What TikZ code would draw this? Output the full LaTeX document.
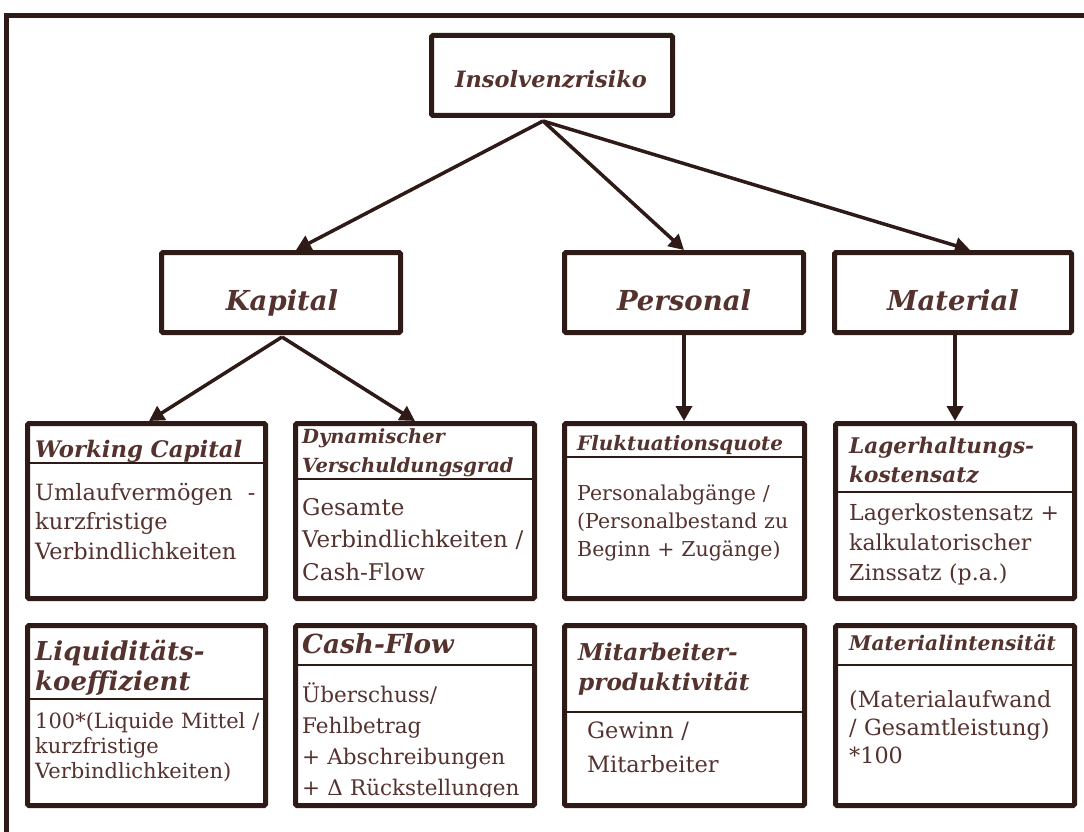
\documentclass[tikz,border=0pt]{standalone}
\usepackage{fontspec}
\setmainfont{DejaVu Serif}
\usetikzlibrary{arrows.meta}
\definecolor{framec}{RGB}{46,26,22}
\definecolor{ink}{RGB}{84,50,46}
\newcommand{\fs}[2]{\fontsize{#1}{#2}\selectfont}
\begin{document}
\begin{tikzpicture}[x=1pt,y=-1pt,
  box/.style={draw=framec, line width=5pt, rounded corners=1.5pt, inner sep=0pt, fill=white},
  divider/.style={draw=framec, line width=1.6pt},
  link/.style={draw=framec, line width=3.5pt, -{Triangle[length=15pt,width=16pt]}},
  head/.style={anchor=base, inner sep=0pt, text=ink, font=\bfseries\itshape\fs{27.5}{34}},
  ttl/.style={anchor=base west, inner sep=0pt, text=ink, align=left, text width=250pt},
  body/.style={anchor=base west, inner sep=0pt, text=ink, align=left, text width=250pt},
]
\useasboundingbox (0,0) rectangle (1084,832);
% page frame (top and left edges)
\draw[framec, line width=5pt] (1084,15.5) -- (6,15.5) -- (6,832);

% top level
\node[box, minimum width=241pt, minimum height=80pt] (ins) at (552,75.5) {};
\node[head, font=\bfseries\itshape\fs{22.5}{28}] (inst) at (551,88) {Insolvenzrisiko};
\coordinate (insb) at (543,121);

% second level
\node[box, minimum width=239pt, minimum height=80pt] (kap) at (281,292.5) {};
\node[box, minimum width=239pt, minimum height=80pt] (per) at (684,292.5) {};
\node[box, minimum width=237pt, minimum height=80pt] (mat) at (953,292.5) {};
\node[head] (kapt) at (282,310) {Kapital};
\node[head] (pert) at (684,310) {Personal};
\node[head] (matt) at (953,310) {Material};

% third level boxes
\node[box, minimum width=238pt, minimum height=175pt] (wc)  at (146.5,511) {};
\node[box, minimum width=239pt, minimum height=175pt] (dyn) at (415,511) {};
\node[box, minimum width=240pt, minimum height=175pt] (flu) at (684.5,511) {};
\node[box, minimum width=239pt, minimum height=175pt] (lag) at (955,511) {};
% fourth level boxes
\node[box, minimum width=238pt, minimum height=180pt] (liq) at (146.5,715.5) {};
\node[box, minimum width=239pt, minimum height=180pt] (cf)  at (415,715.5) {};
\node[box, minimum width=240pt, minimum height=180pt] (mit) at (684.5,715.5) {};
\node[box, minimum width=239pt, minimum height=180pt] (mi)  at (955,715.5) {};

% dividers between heading and formula
\draw[divider] (wc.west |- 0,463) -- (wc.east |- 0,463);
\draw[divider] (dyn.west |- 0,479) -- (dyn.east |- 0,479);
\draw[divider] (flu.west |- 0,457) -- (flu.east |- 0,457);
\draw[divider] (lag.west |- 0,492) -- (lag.east |- 0,492);
\draw[divider] (liq.west |- 0,699) -- (liq.east |- 0,699);
\draw[divider] (cf.west |- 0,665) -- (cf.east |- 0,665);
\draw[divider] (mit.west |- 0,712) -- (mit.east |- 0,712);
\draw[divider] (mi.west |- 0,665) -- (mi.east |- 0,665);

% connectors
\coordinate (kapb) at (282,337);
\draw[link] (insb) -- (kap.north -| 296,0);
\draw[link] (insb) -- (per.north);
\draw[link] (insb) -- (mat.north -| 970,0);
\draw[link] (kapb) -- (wc.north -| 149,0);
\draw[link] (kapb) -- (dyn.north);
\draw[link] (per.south) -- (flu.north -| per.south);
\draw[link] (mat.south -| 955,0) -- (lag.north);

% Working Capital
\node[ttl, font=\bfseries\itshape\fs{22.8}{29}] (wct) at (35,457) {Working Capital};
\node[body, font=\fs{22.5}{29.5}] (wcf) at (35,500) {Umlaufvermögen \ -\\kurzfristige\\Verbindlichkeiten};
% Dynamischer Verschuldungsgrad
\node[ttl, font=\bfseries\itshape\fs{19.5}{29}] (dynt) at (302,443) {Dynamischer\\Verschuldungsgrad};
\node[body, font=\fs{23}{32.5}] (dynf) at (302,515) {Gesamte\\Verbindlichkeiten /\\Cash-Flow};
% Fluktuationsquote
\node[ttl, font=\bfseries\itshape\fs{19.9}{29}] (flut) at (577,450) {Fluktuationsquote};
\node[body, font=\fs{20.5}{28}] (fluf) at (577,500) {Personalabgänge /\\(Personalbestand zu\\Beginn + Zugänge)};
% Lagerhaltungskostensatz
\node[ttl, font=\bfseries\itshape\fs{21.6}{29}] (lagt) at (849,453) {Lagerhaltungs-\\kostensatz};
\node[body, font=\fs{22}{30}] (lagf) at (849,520) {Lagerkostensatz +\\kalkulatorischer\\Zinssatz (p.a.)};
% Liquiditaetskoeffizient
\node[ttl, font=\bfseries\itshape\fs{26}{30}] (liqt) at (35,660) {Liquiditäts-\\koeffizient};
\node[body, font=\fs{21}{25}] (liqf) at (35,728) {100*(Liquide Mittel /\\kurzfristige\\Verbindlichkeiten)};
% Cash-Flow
\node[ttl, font=\bfseries\itshape\fs{26.3}{30}] (cft) at (302,653) {Cash-Flow};
\begin{scope}
  \clip (cf.west |- 0,668) rectangle (cf.east |- 0,796);
  \node[body, font=\fs{21.5}{31}] (cff) at (302,702) {Überschuss/\\Fehlbetrag\\+ Abschreibungen\\+ Δ Rückstellungen};
\end{scope}
% Mitarbeiterproduktivitaet
\node[ttl, font=\bfseries\itshape\fs{23.2}{30}] (mitt) at (578,660) {Mitarbeiter-\\produktivität};
\node[body, font=\fs{22.5}{34}] (mitf) at (587,738) {Gewinn /\\Mitarbeiter};
% Materialintensitaet
\node[ttl, font=\bfseries\itshape\fs{20.2}{29}] (mit2) at (849,650) {Materialintensität};
\node[body, font=\fs{22.3}{28}] (mif) at (849,707) {(Materialaufwand\\/ Gesamtleistung)\\{*}100};
\end{tikzpicture}
\end{document}
